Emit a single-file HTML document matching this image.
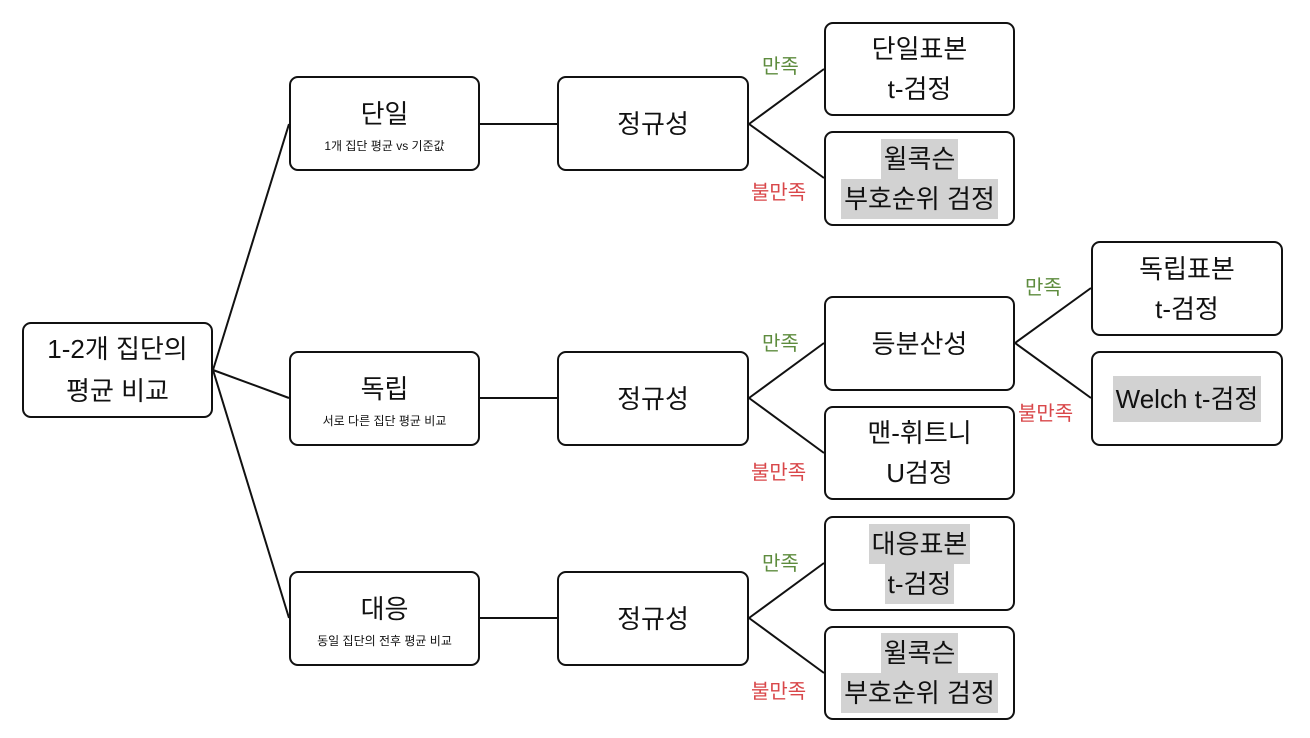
<!DOCTYPE html>
<html><head><meta charset="utf-8"><style>
body{margin:0;width:1310px;height:738px;background:#fff;position:relative;overflow:hidden;font-family:"Liberation Sans","Noto Sans CJK KR",sans-serif;color:#111}
.b{position:absolute;box-sizing:border-box;border:2px solid #111;border-radius:9px;background:#fff;display:flex;flex-direction:column;align-items:center;justify-content:center;text-align:center;font-size:26px;line-height:40px}
.s{font-size:12px;line-height:16px;margin-top:4px}
.h{background:#d2d2d2;padding:0 3px}
.g{position:absolute;color:#5e8c3e;font-size:20px}
.r{position:absolute;color:#d9474a;font-size:20px}
svg{position:absolute;left:0;top:0}
</style></head><body>
<svg width="1310" height="738"><g stroke="#111" stroke-width="2" fill="none">
<path d="M213 370 L289 124 M213 370 L289 398 M213 370 L289 618"/>
<path d="M480 124 L557 124 M480 398 L557 398 M480 618 L557 618"/>
<path d="M749 124 L824 69 M749 124 L824 178"/>
<path d="M749 398 L824 343 M749 398 L824 453"/>
<path d="M749 618 L824 563 M749 618 L824 673"/>
<path d="M1015 343 L1091 288 M1015 343 L1091 398"/>
</g></svg>
<div class="b" style="left:22px;top:322px;width:191px;height:96px;line-height:42px">1-2개 집단의<br>평균 비교</div>
<div class="b" style="left:289px;top:76px;width:191px;height:95px"><div>단일</div><div class="s">1개 집단 평균 vs 기준값</div></div>
<div class="b" style="left:289px;top:351px;width:191px;height:95px"><div>독립</div><div class="s">서로 다른 집단 평균 비교</div></div>
<div class="b" style="left:289px;top:571px;width:191px;height:95px"><div>대응</div><div class="s">동일 집단의 전후 평균 비교</div></div>
<div class="b" style="left:557px;top:76px;width:192px;height:95px">정규성</div>
<div class="b" style="left:557px;top:351px;width:192px;height:95px">정규성</div>
<div class="b" style="left:557px;top:571px;width:192px;height:95px">정규성</div>
<div class="b" style="left:824px;top:22px;width:191px;height:94px">단일표본<br>t-검정</div>
<div class="b" style="left:824px;top:131px;width:191px;height:95px"><span class="h">윌콕슨</span><span class="h">부호순위 검정</span></div>
<div class="b" style="left:824px;top:296px;width:191px;height:95px">등분산성</div>
<div class="b" style="left:824px;top:406px;width:191px;height:94px">맨-휘트니<br>U검정</div>
<div class="b" style="left:824px;top:516px;width:191px;height:95px"><span class="h">대응표본</span><span class="h">t-검정</span></div>
<div class="b" style="left:824px;top:626px;width:191px;height:94px"><span class="h">윌콕슨</span><span class="h">부호순위 검정</span></div>
<div class="b" style="left:1091px;top:241px;width:192px;height:95px">독립표본<br>t-검정</div>
<div class="b" style="left:1091px;top:351px;width:192px;height:95px"><span class="h" style="line-height:46px">Welch t-검정</span></div>
<div class="g" style="left:762px;top:50px">만족</div>
<div class="r" style="left:751px;top:176px">불만족</div>
<div class="g" style="left:762px;top:327px">만족</div>
<div class="r" style="left:751px;top:456px">불만족</div>
<div class="g" style="left:762px;top:547px">만족</div>
<div class="r" style="left:751px;top:675px">불만족</div>
<div class="g" style="left:1025px;top:271px">만족</div>
<div class="r" style="left:1018px;top:397px">불만족</div>
</body></html>
